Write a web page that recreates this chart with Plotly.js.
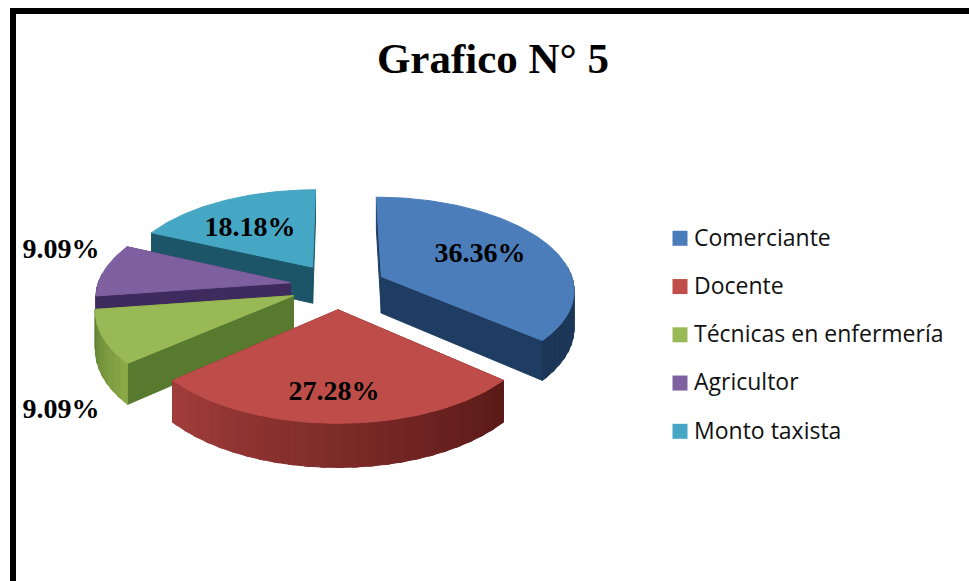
<!DOCTYPE html>
<html>
<head>
<meta charset="utf-8">
<script src="https://cdn.plot.ly/plotly-3.0.1.min.js"></script>
<style>html,body{margin:0;padding:0;background:#fff}#chart{width:969px;height:581px}</style>
</head>
<body>
<div id="chart"></div>
<script>
// Data
const categories = ['Comerciante', 'Docente', 'Técnicas en enfermería', 'Agricultor', 'Monto taxista'];
const values = [36.36, 27.28, 9.09, 9.09, 18.18];
const chartTitle = 'Grafico N° 5';

// Styles
const topColors = ['#4a7dba', '#be4d4a', '#98b955', '#7e60a0', '#46a7c4'];
const wallColors = ['#1f3d63', '#5b1c1a', '#577a2f', '#3e2a5c', '#1c5567'];
const rimFrom = ['#1f3d63', '#5b1a18', '#8aa846', '#3e2a5c', '#1c5567'];
const rimTo = ['#1c3657', '#a23e3b', '#5f8033', '#3e2a5c', '#1c5567'];

// Layout of the drawing (page pixel scale on the hidden axes)
const view = {cx: 338, cy: 286, rx: 193, ry: 92, persp: 0.13, depth: 37, explode: 0.25};
const labelAnchors = [[480, 255], [334, 393], [61, 411], [61, 251], [250, 229]];
const legendX = 680, legendTextX = 694, legendY0 = 238.3, legendStep = 48.25, legendTextDy = 1.5;

function project(X, Y, z) {
  const s = 1 / (1 - view.persp * Y);
  return [view.cx + view.rx * X * s, view.cy + (view.ry * Y + z) * s];
}
function hex(c) { return [1, 3, 5].map(i => parseInt(c.substr(i, 2), 16)); }
function mix(a, b, f) {
  const A = hex(a), B = hex(b);
  return 'rgb(' + A.map((v, i) => Math.round(v + (B[i] - v) * f)).join(',') + ')';
}
function poly(pts, color) {
  return {
    type: 'scatter', mode: 'lines', x: pts.concat([pts[0]]).map(p => p[0]), y: pts.concat([pts[0]]).map(p => p[1]),
    fill: 'toself', fillcolor: color, line: {color: color, width: 1}, hoverinfo: 'skip', showlegend: false
  };
}

const total = values.reduce((a, b) => a + b, 0);
const slices = [];
let cum = 0;
values.forEach((v, i) => {
  const a0 = cum / total * 2 * Math.PI, a1 = (cum + v) / total * 2 * Math.PI;
  cum += v;
  const mid = (a0 + a1) / 2;
  slices.push({i, a0, a1, ex: view.explode * Math.sin(mid), ey: -view.explode * Math.cos(mid)});
});

function rimPoint(s, t, z) { return project(s.ex + Math.sin(t), s.ey - Math.cos(t), z); }
function apex(s, z) { return project(s.ex, s.ey, z); }

const traces = [];
// paint slices from the back of the scene to the front
const order = slices.slice().sort((p, q) => p.ey - q.ey);
order.forEach(s => {
  const i = s.i;
  const walls = [s.a0, s.a1].map(t => ({t, y: -Math.cos(t)})).sort((p, q) => p.y - q.y);
  const wallQuad = t => [apex(s, 0), rimPoint(s, t, 0), rimPoint(s, t, view.depth), apex(s, view.depth)];
  traces.push(poly(wallQuad(walls[0].t), wallColors[i]));
  traces.push(poly(wallQuad(walls[1].t), wallColors[i]));
  // outer rim, in shaded strips over its front-facing part (each overlaps the next)
  const step = 4 * Math.PI / 180, lap = 1.5 * Math.PI / 180;
  for (let t = s.a0; t < s.a1 - 1e-6; t += step) {
    const t1 = Math.min(t + step + lap, s.a1);
    if (Math.cos((t + t1) / 2) > 0.1) continue;
    const f = (t - s.a0) / (s.a1 - s.a0);
    const strip = [];
    for (let k = 0; k <= 3; k++) strip.push(rimPoint(s, t + (t1 - t) * k / 3, 0));
    for (let k = 3; k >= 0; k--) strip.push(rimPoint(s, t + (t1 - t) * k / 3, view.depth));
    traces.push(poly(strip, mix(rimFrom[i], rimTo[i], f)));
  }
  // top face
  const top = [apex(s, 0)];
  const n = Math.max(8, Math.round((s.a1 - s.a0) * 180 / Math.PI));
  for (let k = 0; k <= n; k++) top.push(rimPoint(s, s.a0 + (s.a1 - s.a0) * k / n, 0));
  traces.push(poly(top, topColors[i]));
});

// Percentage labels
traces.push({
  type: 'scatter', mode: 'text',
  x: labelAnchors.map(a => a[0]), y: labelAnchors.map(a => a[1]),
  text: values.map(v => v.toFixed(2) + '%'),
  textposition: 'middle center',
  textfont: {family: 'Liberation Serif', size: 28, color: '#000', weight: 'bold'},
  hoverinfo: 'skip', showlegend: false
});

// Legend
categories.forEach((c, i) => {
  traces.push({
    type: 'scatter', mode: 'markers', name: c,
    x: [legendX], y: [legendY0 + i * legendStep],
    marker: {symbol: 'square', size: 15, color: topColors[i]},
    cliponaxis: false, hoverinfo: 'skip', showlegend: false
  });
  traces.push({
    type: 'scatter', mode: 'text', name: c,
    x: [legendTextX], y: [legendY0 + i * legendStep + legendTextDy], text: [c],
    textposition: 'middle right',
    textfont: {family: 'Open Sans', size: 23, color: '#111'},
    cliponaxis: false, hoverinfo: 'skip', showlegend: false
  });
});

const layout = {
  width: 969, height: 581,
  margin: {l: 0, r: 0, t: 0, b: 0},
  paper_bgcolor: '#fff', plot_bgcolor: '#fff',
  showlegend: false,
  title: {
    text: chartTitle, x: 493 / 969, xanchor: 'center', xref: 'paper',
    y: 1 - 58 / 581, yanchor: 'middle', yref: 'container',
    font: {family: 'Liberation Serif', size: 43, color: '#000', weight: 'bold'}
  },
  xaxis: {range: [0, 969], visible: false, fixedrange: true},
  yaxis: {range: [581, 0], visible: false, fixedrange: true},
  shapes: [{
    type: 'path', xref: 'x', yref: 'y',
    path: 'M 13 581 L 13 11 L 969 11',
    line: {color: '#000', width: 6}, layer: 'above'
  }]
};
Plotly.newPlot('chart', traces, layout, {displayModeBar: false, responsive: false});
</script>
</body>
</html>
